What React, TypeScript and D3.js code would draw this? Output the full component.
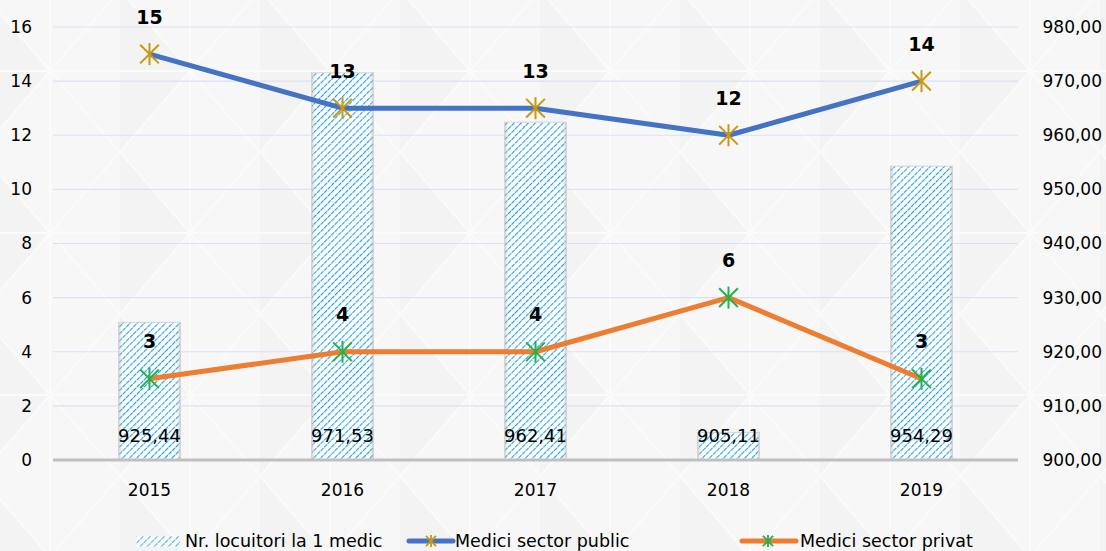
import React from "react";
import * as d3 from "d3";

const years = ["2015", "2016", "2017", "2018", "2019"];
const locuitori = [925.44, 971.53, 962.41, 905.11, 954.29];
const publicVals = [15, 13, 13, 12, 14];
const privatVals = [3, 4, 4, 6, 3];
const leftTicks = [0, 2, 4, 6, 8, 10, 12, 14, 16];
const rightTicks = [900, 910, 920, 930, 940, 950, 960, 970, 980];

const W = 1106;
const H = 551;
const FONT = "Tahoma, 'DejaVu Sans', Verdana, sans-serif";

function Star({ x, y, color, r = 11, sw = 2 }: { x: number; y: number; color: string; r?: number; sw?: number }) {
  const d = r * 0.85;
  return (
    <g stroke={color} strokeWidth={sw}>
      <line x1={x - d} y1={y - d} x2={x + d} y2={y + d} />
      <line x1={x - d} y1={y + d} x2={x + d} y2={y - d} />
      <line x1={x} y1={y - r} x2={x} y2={y + r} />
    </g>
  );
}

export default function App() {
  const x0 = 53;
  const x1 = 1018;
  const yTop = 27;
  const yBot = 460;
  const x = d3.scaleBand<string>().domain(years).range([x0, x1]);
  const yL = d3.scaleLinear().domain([0, 16]).range([yBot, yTop]);
  const yR = d3.scaleLinear().domain([900, 980]).range([yBot, yTop]);
  const cx = (c: string) => (x(c) as number) + x.bandwidth() / 2;
  const barW = 62;
  const line = d3
    .line<number>()
    .x((_, i) => cx(years[i]))
    .y((v) => yL(v));
  const fmt = (v: number) => v.toFixed(2).replace(".", ",");

  return (
    <svg width={W} height={H} style={{ position: "absolute", left: 0, top: 0 }}>
      <defs>
        <pattern id="hatch" width="5" height="5" patternUnits="userSpaceOnUse" patternTransform="rotate(45)">
          <rect width="5" height="5" fill="#ffffff" />
          <line x1="0" y1="0" x2="0" y2="5" stroke="#1a9fe3" strokeWidth="2.2" strokeDasharray="2.2 0.8" />
        </pattern>
        <linearGradient id="edge" x1="0" x2="1" y1="0" y2="0">
          <stop offset="0" stopColor="#bdbdbd" stopOpacity="0.7" />
          <stop offset="0.06" stopColor="#bdbdbd" stopOpacity="0" />
          <stop offset="0.94" stopColor="#bdbdbd" stopOpacity="0" />
          <stop offset="1" stopColor="#bdbdbd" stopOpacity="0.7" />
        </linearGradient>
        <pattern id="bg" width="140" height="162" patternUnits="userSpaceOnUse" x="-20" y="-10">
          <rect width="140" height="162" fill="#f7f7f7" />
          <path d="M0,0 L70,81 L0,162 Z" fill="#f3f3f3" />
          <path d="M0,0 L70,81 L140,0 M0,162 L70,81 L140,162 M0,81 L140,81 M70,0 L70,162" stroke="#fbfbfb" strokeWidth="2" fill="none" />
        </pattern>
      </defs>
      <rect width={W} height={H} fill="url(#bg)" />

      {/* gridlines */}
      {leftTicks.map((t) =>
        t === 0 ? null : (
          <line key={t} x1={x0} x2={x1} y1={yL(t)} y2={yL(t)} stroke="#d9e1f2" strokeWidth={1.2} />
        )
      )}

      {/* left axis labels */}
      {leftTicks.map((t) => (
        <text key={t} x={32} y={yL(t)} dy="0.35em" textAnchor="end" fontFamily={FONT} fontSize={17} fill="#000">
          {t}
        </text>
      ))}
      {/* right axis labels */}
      {rightTicks.map((t) => (
        <text key={t} x={1102} y={yR(t)} dy="0.35em" textAnchor="end" fontFamily={FONT} fontSize={17} fill="#000">
          {fmt(t)}
        </text>
      ))}

      {/* bars */}
      {years.map((c, i) => (
        <g key={c}>
          <rect
            x={cx(c) - barW / 2}
            y={yR(locuitori[i])}
            width={barW}
            height={yBot - yR(locuitori[i])}
            fill="url(#hatch)"
          />
          <rect
            x={cx(c) - barW / 2}
            y={yR(locuitori[i])}
            width={barW}
            height={yBot - yR(locuitori[i])}
            fill="url(#edge)"
            stroke="#d4d4d4"
            strokeWidth={1}
          />
        </g>
      ))}

      {/* x axis */}
      <line x1={x0} x2={x1} y1={yBot} y2={yBot} stroke="#bfbfbf" strokeWidth={3} />
      {years.map((c) => (
        <text key={c} x={cx(c)} y={490} dy="0.35em" textAnchor="middle" fontFamily={FONT} fontSize={17} fill="#000">
          {c}
        </text>
      ))}

      {/* bar labels */}
      {years.map((c, i) => (
        <text key={c} x={cx(c)} y={436} dy="0.35em" textAnchor="middle" fontFamily={FONT} fontSize={18} fill="#000">
          {fmt(locuitori[i])}
        </text>
      ))}

      {/* lines */}
      <path d={line(publicVals) || ""} fill="none" stroke="#4472C4" strokeWidth={5} strokeLinejoin="round" />
      <path d={line(privatVals) || ""} fill="none" stroke="#ED7D31" strokeWidth={5} strokeLinejoin="round" />
      {years.map((c, i) => (
        <Star key={"p" + c} x={cx(c)} y={yL(publicVals[i])} color="#C9980F" />
      ))}
      {years.map((c, i) => (
        <Star key={"v" + c} x={cx(c)} y={yL(privatVals[i])} color="#22B14C" />
      ))}
      {years.map((c, i) => (
        <text key={"pl" + c} x={cx(c)} y={yL(publicVals[i]) - 37} dy="0.35em" textAnchor="middle" fontFamily={FONT} fontSize={19} fontWeight="bold" fill="#000">
          {publicVals[i]}
        </text>
      ))}
      {years.map((c, i) => (
        <text key={"vl" + c} x={cx(c)} y={yL(privatVals[i]) - 37} dy="0.35em" textAnchor="middle" fontFamily={FONT} fontSize={19} fontWeight="bold" fill="#000">
          {privatVals[i]}
        </text>
      ))}

      {/* legend */}
      <g fontFamily={FONT} fontSize={17.5} fill="#000">
        <rect x={136} y={536} width={44} height={11} fill="url(#hatch)" opacity={0.75} />
        <text x={185} y={541} dy="0.35em">Nr. locuitori la 1 medic</text>
        <line x1={409} x2={453} y1={541} y2={541} stroke="#4472C4" strokeWidth={5} strokeLinecap="round" />
        <Star x={431} y={541} color="#C9980F" r={6} sw={1.8} />
        <text x={455} y={541} dy="0.35em">Medici sector public</text>
        <line x1={742} x2={796} y1={541} y2={541} stroke="#ED7D31" strokeWidth={5} strokeLinecap="round" />
        <Star x={768} y={541} color="#22B14C" r={6} sw={1.8} />
        <text x={800} y={541} dy="0.35em">Medici sector privat</text>
      </g>
    </svg>
  );
}
